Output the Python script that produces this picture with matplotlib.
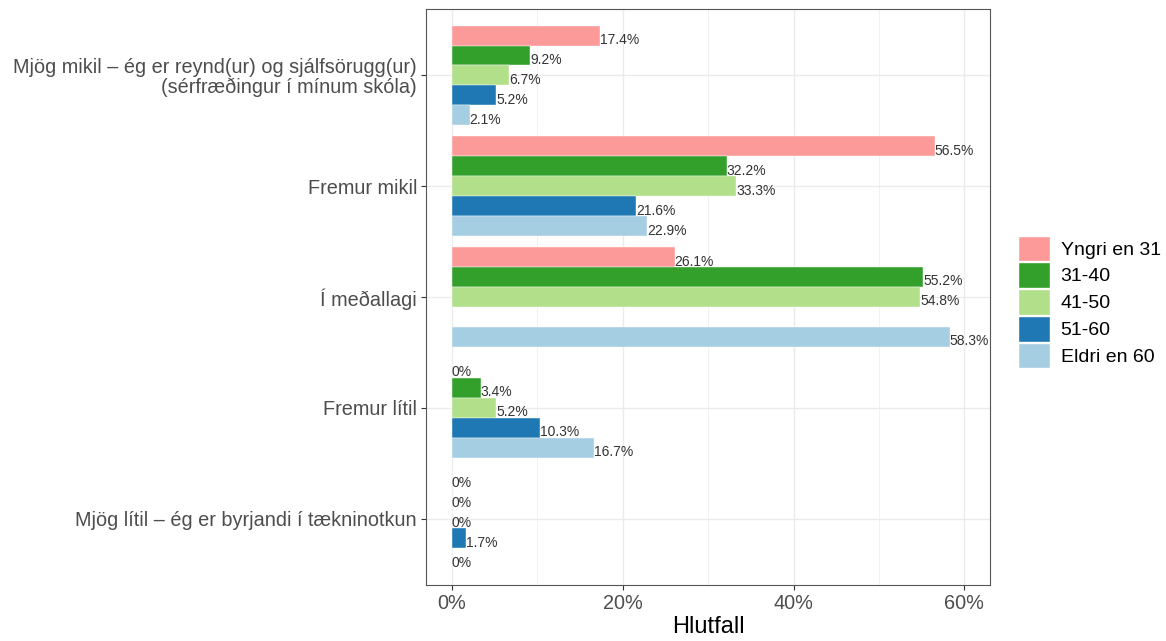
import numpy as np
import matplotlib.pyplot as plt
from matplotlib.patches import Patch
from matplotlib.ticker import FuncFormatter, MultipleLocator

plt.rcParams['font.family'] = ['Liberation Sans', 'DejaVu Sans']

# flokkar (frá efsta til neðsta)
categories = [
    "Mjög mikil – ég er reynd(ur) og sjálfsörugg(ur)\n(sérfræðingur í mínum skóla)",
    "Fremur mikil",
    "Í meðallagi",
    "Fremur lítil",
    "Mjög lítil – ég er byrjandi í tækninotkun",
]
groups = ["Yngri en 31", "31-40", "41-50", "51-60", "Eldri en 60"]
colors = ["#FB9A99", "#33A02C", "#B2DF8A", "#1F78B4", "#A6CEE3"]

# hlutfall í % fyrir hvern aldurshóp; nan = súla utan marka (ekki teiknuð)
yngri = [17.4, 56.5, 26.1, 0, 0]
a31_40 = [9.2, 32.2, 55.2, 3.4, 0]
a41_50 = [6.7, 33.3, 54.8, 5.2, 0]
a51_60 = [5.2, 21.6, np.nan, 10.3, 1.7]
eldri = [2.1, 22.9, 58.3, 16.7, 0]
values = [yngri, a31_40, a41_50, a51_60, eldri]

fig = plt.figure(figsize=(11.66, 6.41), dpi=100, facecolor='white')
ax = fig.add_axes([0.3654, 0.0874, 0.4837, 0.8986])

y = np.arange(len(categories))
w = 0.9 / len(groups)
for i, (g, vals, c) in enumerate(zip(groups, values, colors)):
    pos = y + (i - 2) * w
    ax.barh(pos, vals, height=w, color=c, edgecolor='white', linewidth=0.3)
    for p, v in zip(pos, vals):
        if np.isnan(v):
            continue
        lab = "0%" if v == 0 else "%.1f%%" % v
        ax.text(v, p + 0.04, lab, ha='left', va='center', fontsize=10, color='#333333')

ax.set_xlim(-3, 63)
ax.set_ylim(len(categories) - 0.4, -0.6)
ax.set_yticks(y)
ax.set_yticklabels(categories, fontsize=14.3, color='#4D4D4D', linespacing=1.05)
ax.xaxis.set_major_locator(MultipleLocator(20))
ax.xaxis.set_minor_locator(MultipleLocator(10))
ax.xaxis.set_major_formatter(FuncFormatter(lambda v, p: "%d%%" % v))
ax.tick_params(axis='x', labelsize=14.3, labelcolor='#4D4D4D', color='#333333', length=3.5, pad=3)
ax.tick_params(axis='y', color='#333333', length=3.5, pad=3)
ax.tick_params(which='minor', length=0)
ax.grid(True, which='major', color='#EBEBEB', linewidth=1.0)
ax.grid(True, which='minor', axis='x', color='#EBEBEB', linewidth=0.5)
ax.set_axisbelow(True)
for s in ax.spines.values():
    s.set_color('#555555')
    s.set_linewidth(0.8)

ax.set_xlabel("Hlutfall", fontsize=17, color='black', labelpad=2)

handles = [Patch(facecolor=c, edgecolor='white', label=g) for g, c in zip(groups, colors)]
fig.legend(handles=handles, loc='center left', bbox_to_anchor=(0.873, 0.529),
           frameon=False, fontsize=14, handlelength=1.65, handleheight=1.65,
           handletextpad=0.55, labelspacing=0.06, borderaxespad=0, borderpad=0)

fig.savefig('out.png', dpi=100)
